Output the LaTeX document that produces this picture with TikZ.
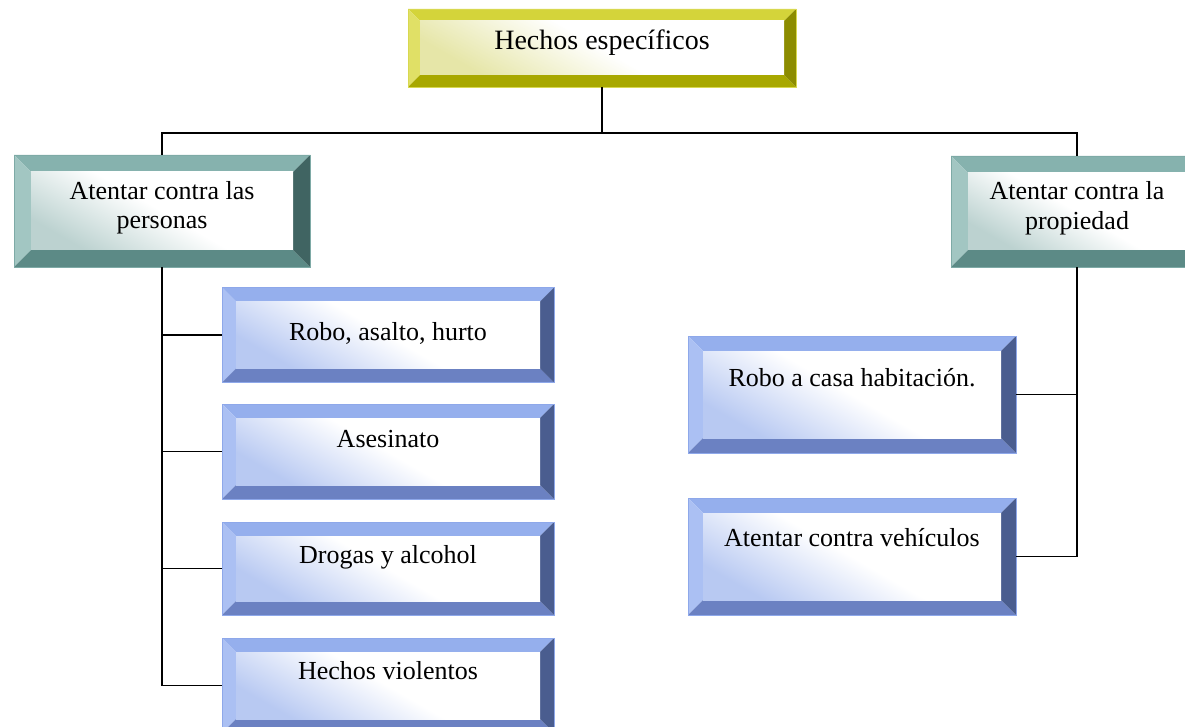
\documentclass[tikz,border=0pt]{standalone}
\usepackage{fontspec}
\setmainfont{Liberation Serif}
\definecolor{yeltop}{HTML}{D4D43A}
\definecolor{yelleft}{HTML}{E0E066}
\definecolor{yelbot}{HTML}{A8A800}
\definecolor{yelright}{HTML}{8C8C00}
\definecolor{yeltint}{HTML}{E6E6A8}
\definecolor{yeledge}{HTML}{D8D850}
\definecolor{tealtop}{HTML}{86B2AE}
\definecolor{tealleft}{HTML}{A2C6C2}
\definecolor{tealbot}{HTML}{5C8A86}
\definecolor{tealright}{HTML}{406462}
\definecolor{tealtint}{HTML}{BCD2D0}
\definecolor{tealedge}{HTML}{7EAAA6}
\definecolor{bluetop}{HTML}{95AFED}
\definecolor{blueleft}{HTML}{ABC0F3}
\definecolor{bluebot}{HTML}{6B81C2}
\definecolor{blueright}{HTML}{4A5D8F}
\definecolor{bluetint}{HTML}{B8C9F2}
\definecolor{blueedge}{HTML}{8EA8EA}
\newcommand\boxtext[2]{\raisebox{#1}[0pt][0pt]{#2}}
\newcommand\twolines[3]{\raisebox{#1}[0pt][0pt]{\parbox[b]{250pt}{\centering #2\\#3}}}
\tikzset{
  bv/.store in=\bvsize, bv=14pt,
  bevelbox/.style={
    rectangle, inner sep=0pt, outer sep=0pt, draw=#1edge, line width=0.6pt,
    font=\fontsize{26}{29}\selectfont,
    path picture={
      \path (path picture bounding box.north west) coordinate (pNW)
            (path picture bounding box.north east) coordinate (pNE)
            (path picture bounding box.south west) coordinate (pSW)
            (path picture bounding box.south east) coordinate (pSE);
      \path ([shift={(\bvsize,-\bvsize)}]pNW) coordinate (qNW)
            ([shift={(-\bvsize,-\bvsize)}]pNE) coordinate (qNE)
            ([shift={(\bvsize,\bvsize)}]pSW) coordinate (qSW)
            ([shift={(-\bvsize,\bvsize)}]pSE) coordinate (qSE);
      \fill[#1top] (pNW) -- (pNE) -- (qNE) -- (qNW) -- cycle;
      \fill[#1left] (pNW) -- (qNW) -- (qSW) -- (pSW) -- cycle;
      \fill[#1bot] (pSW) -- (qSW) -- (qSE) -- (pSE) -- cycle;
      \fill[#1right] (pNE) -- (pSE) -- (qSE) -- (qNE) -- cycle;
      \shade[top color=white, bottom color=#1tint, middle color=white, shading angle=-30] (qNW) rectangle (qSE);
    }
  },
  conn/.style={draw=black, line width=1.6pt}
}
\begin{document}
\begin{tikzpicture}[x=1pt,y=-1pt]
\useasboundingbox (0,0) rectangle (1185,727);
\clip (0,0) rectangle (1185,727);
% top
\node[bevelbox=yel, bv=12pt, minimum width=388pt, minimum height=78pt,
      font=\fontsize{28}{32}\selectfont] (top) at (602,48) {\boxtext{-2pt}{Hechos específicos}};
% second level
\node[bevelbox=teal, bv=17pt, minimum width=296pt, minimum height=112pt] (pers) at (162,211)
  {\twolines{-18pt}{Atentar contra las}{personas}};
\node[bevelbox=teal, bv=17pt, minimum width=252pt, minimum height=111pt] (prop) at (1077,211.5)
  {\twolines{-17.5pt}{Atentar contra la}{propiedad}};
% left column
\node[bevelbox=blue, bv=14pt, minimum width=332pt, minimum height=95pt] (robo) at (388,335)
  {\boxtext{-5pt}{Robo, asalto, hurto}};
\node[bevelbox=blue, bv=14pt, minimum width=332pt, minimum height=95pt] (ases) at (388,451.5)
  {\boxtext{4.5pt}{Asesinato}};
\node[bevelbox=blue, bv=14pt, minimum width=332pt, minimum height=93pt] (drog) at (388,568.5)
  {\boxtext{5.5pt}{Drogas y alcohol}};
\node[bevelbox=blue, bv=14pt, minimum width=332pt, minimum height=95pt] (hech) at (388,685.5)
  {\boxtext{6.5pt}{Hechos violentos}};
% right column
\node[bevelbox=blue, bv=15pt, minimum width=328pt, minimum height=117pt] (casa) at (852,394.5)
  {\boxtext{8.5pt}{Robo a casa habitación.}};
\node[bevelbox=blue, bv=15pt, minimum width=328pt, minimum height=117pt] (veh) at (852,556.5)
  {\boxtext{10.5pt}{Atentar contra vehículos}};
% connectors
\coordinate (bus) at (602,133);
\draw[conn] (top.south) -- (bus);
\draw[conn] (pers.north) -- (pers.north |- bus) -- (prop.north |- bus) -- (prop.north);
\draw[conn] (pers.south) |- (hech.west);
\draw[conn] (pers.south |- robo.west) -- (robo.west);
\draw[conn] (pers.south |- ases.west) -- (ases.west);
\draw[conn] (pers.south |- drog.west) -- (drog.west);
\draw[conn] (prop.south) |- (veh.east);
\draw[conn] (prop.south |- casa.east) -- (casa.east);
\end{tikzpicture}
\end{document}
